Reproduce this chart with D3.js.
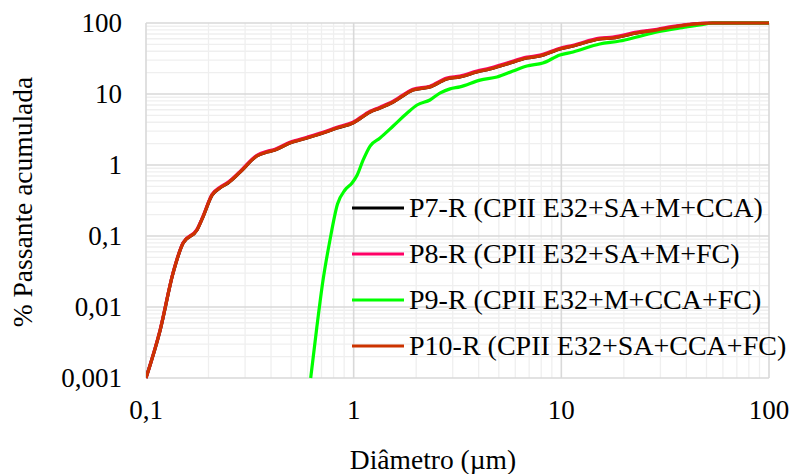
<!DOCTYPE html>
<html>
<head>
<meta charset="utf-8">
<script src="https://cdn.jsdelivr.net/npm/d3@7"></script>
<style>
  body { margin: 0; background: #fff; }
  text { font-family: "Liberation Serif", "Times New Roman", serif; fill: #000; }
</style>
</head>
<body>
<svg id="chart" width="793" height="474"></svg>
<script>
// diameters (µm)
const diamRef = [0.1, 0.117, 0.135, 0.151, 0.176, 0.188, 0.208, 0.227, 0.248, 0.284, 0.342, 0.383, 0.418, 0.493,
  0.596, 0.711, 0.831, 0.992, 1.2, 1.34, 1.55, 1.93, 2.33, 2.81, 3.25, 3.92, 4.53, 5.47, 6.83, 7.89, 9.85, 11.4,
  15.3, 17.7, 23.1, 28.9, 34.5, 46.5, 53.7, 100];
const diamP9 = [0.621, 0.664, 0.711, 0.769, 0.836, 0.908, 0.982, 1.04, 1.11, 1.2, 1.34, 1.55, 1.81, 2.02, 2.33,
  2.6, 2.91, 3.25, 4.06, 4.9, 5.85, 6.83, 8.15, 9.85, 11.4, 15.3, 19.1, 23.1, 28.9, 37.2, 46.5, 53.7, 100];

// % passante acumulada
const p7 = [0.001, 0.0047, 0.0300, 0.0795, 0.1215, 0.185, 0.376, 0.474, 0.556, 0.795, 1.34, 1.52, 1.63, 2.04,
  2.40, 2.82, 3.31, 3.90, 5.57, 6.34, 7.70, 11.4, 12.6, 16.3, 17.4, 20.4, 22.5, 26.5, 32.1, 34.3, 43.0, 47.4,
  59.5, 61.5, 72.3, 79.7, 87.9, 98, 100, 100];
const p8 = [0.001, 0.0048, 0.0305, 0.081, 0.124, 0.189, 0.385, 0.485, 0.57, 0.815, 1.37, 1.56, 1.67, 2.09,
  2.46, 2.89, 3.40, 4.01, 5.72, 6.52, 7.92, 11.7, 12.9, 16.8, 17.9, 21.0, 23.2, 27.3, 33.0, 35.3, 44.2, 48.7,
  61.1, 63.2, 74.2, 81.6, 89.6, 99, 100, 100];
const p9 = [0.001, 0.00506, 0.0232, 0.088, 0.282, 0.444, 0.557, 0.723, 1.17, 1.85, 2.4, 3.54, 5.4, 7.0, 8.23,
  10.3, 11.8, 12.6, 15.7, 17.4, 21.1, 24.8, 27.3, 35.4, 39.1, 50.6, 55.7, 63.5, 74.7, 85.1, 93.7, 100, 100];
const p10 = [0.001, 0.00474, 0.0301, 0.0796, 0.1216, 0.185, 0.377, 0.474, 0.557, 0.796, 1.34, 1.52, 1.63, 2.04,
  2.40, 2.82, 3.32, 3.91, 5.58, 6.35, 7.71, 11.4, 12.6, 16.3, 17.4, 20.4, 22.5, 26.5, 32.1, 34.3, 43.0, 47.4,
  59.5, 61.5, 72.3, 79.7, 87.9, 98, 100, 100];

const seriesNames = ['P7-R (CPII E32+SA+M+CCA)', 'P8-R (CPII E32+SA+M+FC)',
  'P9-R (CPII E32+M+CCA+FC)', 'P10-R (CPII E32+SA+CCA+FC)'];
const colors = ['#000000', '#ff0066', '#00ff00', '#cc3300'];

const xTicks = [0.1, 1, 10, 100];
const yTicks = [0.001, 0.01, 0.1, 1, 10, 100];
const tickLabel = v => String(v).replace('.', ',');

const margin = { left: 146, right: 24, top: 23, bottom: 96 };
const width = 793, height = 474;

const svg = d3.select('#chart');

const x = d3.scaleLog().domain([0.1, 100]).range([margin.left, width - margin.right]);
const y = d3.scaleLog().domain([0.001, 100]).range([height - margin.bottom, margin.top]);

// minor grid values 2..9 in every decade
const minorX = [];
for (let d = 0.1; d < 100; d *= 10) for (let k = 2; k <= 9; k++) minorX.push(d * k);
const minorY = [];
for (let d = 0.001; d < 100; d *= 10) for (let k = 2; k <= 9; k++) minorY.push(d * k);

const grid = svg.append('g');
grid.selectAll('.minx').data(minorX).enter().append('line')
  .attr('x1', d => x(d)).attr('x2', d => x(d))
  .attr('y1', y.range()[0]).attr('y2', y.range()[1])
  .style('stroke', '#efefef').style('stroke-width', 1.3);
grid.selectAll('.miny').data(minorY).enter().append('line')
  .attr('y1', d => y(d)).attr('y2', d => y(d))
  .attr('x1', x.range()[0]).attr('x2', x.range()[1])
  .style('stroke', '#efefef').style('stroke-width', 1.3);
grid.selectAll('.majx').data(xTicks).enter().append('line')
  .attr('x1', d => x(d)).attr('x2', d => x(d))
  .attr('y1', y.range()[0]).attr('y2', y.range()[1])
  .style('stroke', '#d9d9d9').style('stroke-width', 1.6);
grid.selectAll('.majy').data(yTicks).enter().append('line')
  .attr('y1', d => y(d)).attr('y2', d => y(d))
  .attr('x1', x.range()[0]).attr('x2', x.range()[1])
  .style('stroke', '#d9d9d9').style('stroke-width', 1.6);

// tick labels
svg.append('g').selectAll('text').data(yTicks).enter().append('text')
  .attr('x', 122).attr('y', d => y(d)).attr('dy', '0.33em')
  .style('text-anchor', 'end').style('font-size', '27px')
  .text(tickLabel);
svg.append('g').selectAll('text').data(xTicks).enter().append('text')
  .attr('x', d => x(d)).attr('y', 419)
  .style('text-anchor', 'middle').style('font-size', '27px')
  .text(tickLabel);

// axis titles
svg.append('text')
  .attr('x', 433).attr('y', 469)
  .style('text-anchor', 'middle').style('font-size', '27.5px')
  .text('Diâmetro (µm)');
svg.append('text')
  .attr('transform', 'translate(32,202) rotate(-90)')
  .style('text-anchor', 'middle').style('font-size', '27.5px')
  .text('% Passante acumulada');

// curves
svg.append('clipPath').attr('id', 'plot-clip').append('rect')
  .attr('x', margin.left).attr('y', margin.top - 3)
  .attr('width', x.range()[1] - margin.left + 3).attr('height', y.range()[0] - margin.top + 6);

const line = d3.line()
  .x(d => x(d[0]))
  .y(d => y(d[1]))
  .curve(d3.curveMonotoneX);

const series = [
  d3.zip(diamRef, p7),
  d3.zip(diamRef, p8),
  d3.zip(diamP9, p9),
  d3.zip(diamRef, p10)
];

svg.append('g').attr('clip-path', 'url(#plot-clip)')
  .selectAll('path').data(series).enter().append('path')
  .attr('d', line)
  .style('fill', 'none')
  .style('stroke', (d, i) => colors[i])
  .style('stroke-width', 3.2)
  .style('stroke-linejoin', 'round');

// legend
const legend = svg.append('g').selectAll('g').data(seriesNames).enter().append('g')
  .attr('transform', (d, i) => 'translate(352,' + (208 + i * 46) + ')');
legend.append('line')
  .attr('x1', 0).attr('x2', 52)
  .style('stroke', (d, i) => colors[i]).style('stroke-width', 3.2);
legend.append('text')
  .attr('x', 57).attr('dy', '0.33em')
  .style('font-size', '28px')
  .text(d => d);
</script>
</body>
</html>
